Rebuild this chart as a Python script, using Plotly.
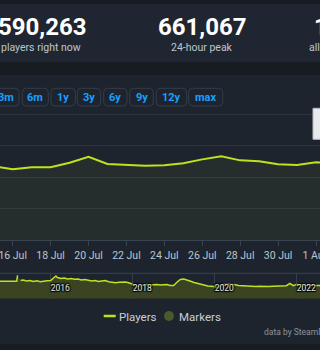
import plotly.graph_objects as go

W, H = 320, 350
FONT = "Roboto"

# ---------------- data ----------------
main_dates = ["2023-07-15", "2023-07-16", "2023-07-17", "2023-07-18", "2023-07-19",
              "2023-07-20", "2023-07-21", "2023-07-22", "2023-07-23", "2023-07-24",
              "2023-07-25", "2023-07-26", "2023-07-27", "2023-07-28", "2023-07-29",
              "2023-07-30", "2023-07-31", "2023-08-01", "2023-08-02"]
main_players = [585000, 561000, 577000, 577000, 613000,
                661000, 603000, 598000, 590000, 593000,
                609000, 640000, 664000, 632000, 625000,
                601000, 595000, 617000, 610000]

nav_dates = ["2014-10-01", "2014-11-01", "2014-12-01", "2015-01-01", "2015-02-01",
             "2015-03-05", "2015-03-12", "2015-03-13", "2015-04-08",
             "2015-05-01", "2015-06-01", "2015-07-01", "2015-08-01", "2015-09-01",
             "2015-10-01", "2015-11-01", "2015-12-01",
             "2016-01-01", "2016-02-01", "2016-02-17", "2016-03-01", "2016-04-01",
             "2016-05-01", "2016-06-01", "2016-07-01", "2016-08-01", "2016-09-01",
             "2016-10-01", "2016-11-01", "2016-12-01",
             "2017-01-01", "2017-02-01", "2017-03-01", "2017-04-01", "2017-05-01",
             "2017-06-01", "2017-07-01", "2017-08-01", "2017-09-01", "2017-10-01",
             "2017-11-01", "2017-12-01",
             "2018-01-01", "2018-02-01", "2018-03-01", "2018-04-01", "2018-05-01",
             "2018-06-01", "2018-07-01", "2018-08-01", "2018-09-01", "2018-10-01",
             "2018-11-01", "2018-12-01",
             "2019-01-01", "2019-02-01", "2019-03-01", "2019-04-01", "2019-05-01",
             "2019-06-01", "2019-07-01", "2019-08-01", "2019-09-01", "2019-10-01",
             "2019-11-01", "2019-12-01",
             "2020-01-01", "2020-02-01", "2020-03-01", "2020-04-01", "2020-05-01",
             "2020-06-01", "2020-07-01", "2020-08-01", "2020-09-01", "2020-10-01",
             "2020-11-01", "2020-12-01",
             "2021-01-01", "2021-02-01", "2021-03-01", "2021-04-01", "2021-05-01",
             "2021-06-01", "2021-07-01", "2021-08-01", "2021-09-01", "2021-10-01",
             "2021-11-01", "2021-12-01",
             "2022-01-01", "2022-02-01", "2022-03-01", "2022-04-01", "2022-05-01",
             "2022-06-01", "2022-07-01", "2022-08-01", "2022-09-01", "2022-10-01",
             "2022-11-01", "2022-12-01", "2023-01-01", "2023-03-01", "2023-05-01",
             "2023-08-01"]
nav_players = [890000, 880000, 906000, 890000, 895000,
               895000, 1197000, None, 931000,
               957000, 906000, 931000, 880000, 916000,
               870000, 906000, 921000,
               931000, 1059000, 1162000, 1085000, 1034000,
               1059000, 1008000, 1034000, 993000, 1008000,
               957000, 983000, 931000,
               906000, 931000, 880000, 906000, 931000,
               865000, 829000, 819000, 845000, 855000,
               855000, 804000,
               727000, 676000, 650000, 676000, 727000,
               701000, 717000, 727000, 701000, 717000,
               727000, 676000,
               676000, 855000, 983000, 1008000, 931000,
               890000, 829000, 778000, 737000, 676000,
               650000, 635000,
               614000, 599000, 676000, 752000, 763000,
               752000, 711000, 676000, 660000, 650000,
               635000, 640000,
               624000, 635000, 624000, 640000, 624000,
               640000, 650000, 640000, 660000, 665000,
               788000, 665000,
               737000, 701000, 701000, 686000, 701000,
               676000, 676000, 676000, 670000, 665000,
               660000, 655000, 650000, 645000, 640000,
               640000]

stat_values = ["590,263", "661,067", "1,295,114"]
stat_labels = ["players right now", "24-hour peak", "all-time peak"]
range_buttons = ["3m", "6m", "1y", "3y", "6y", "9y", "12y", "max"]
legend_labels = ["Players", "Markers"]
credit = "data by SteamDB"

# ---------------- styling ----------------
LINE = "#bde31f"
BG_PAGE = "#171b22"
BG_STATS = "#1f2631"
BG_CHART = "#1e242e"
GRID = "#2c333e"
AXIS = "#3a4350"
TXT = "#bcc6cf"
BLUE = "#1a9fff"


def px(x):
    return x / W


def py(y):
    return 1 - y / H


def rrect(x0, y0, x1, y1, r):
    pts = [
        f"M{px(x0 + r)},{py(y0)}", f"L{px(x1 - r)},{py(y0)}",
        f"Q{px(x1)},{py(y0)} {px(x1)},{py(y0 + r)}", f"L{px(x1)},{py(y1 - r)}",
        f"Q{px(x1)},{py(y1)} {px(x1 - r)},{py(y1)}", f"L{px(x0 + r)},{py(y1)}",
        f"Q{px(x0)},{py(y1)} {px(x0)},{py(y1 - r)}", f"L{px(x0)},{py(y0 + r)}",
        f"Q{px(x0)},{py(y0)} {px(x0 + r)},{py(y0)}", "Z"]
    return " ".join(pts)


fig = go.Figure()

fig.add_trace(go.Scatter(
    x=main_dates, y=main_players, mode="lines", name="Players",
    line=dict(color=LINE, width=2), fill="tozeroy",
    fillcolor="rgba(189,227,31,0.05)", xaxis="x", yaxis="y", showlegend=False,
    hoverinfo="skip"))

fig.add_trace(go.Scatter(
    x=nav_dates, y=nav_players, mode="lines", name="Navigator",
    line=dict(color=LINE, width=1.5), fill="tozeroy", fillcolor="#3a4322",
    connectgaps=False, xaxis="x2", yaxis="y2", showlegend=False, hoverinfo="skip"))

shapes = [
    dict(type="rect", xref="paper", yref="paper", x0=0, x1=1, y0=py(62.3), y1=py(4),
         fillcolor=BG_STATS, line_width=0, layer="below"),
    dict(type="rect", xref="paper", yref="paper", x0=0, x1=1, y0=py(344), y1=py(75),
         fillcolor=BG_CHART, line_width=0, layer="below"),
    dict(type="line", xref="paper", yref="paper", x0=0, x1=1, y0=py(273.3), y1=py(273.3),
         line=dict(color=AXIS, width=1)),
    # tooltip edge peeking in from the right
    dict(type="rect", xref="paper", yref="paper", x0=px(313), x1=px(340),
         y0=py(139.3), y1=py(108.3),
         fillcolor="#e8e9eb", line=dict(color="#b8bcc1", width=1)),
    # legend symbols
    dict(type="line", xref="paper", yref="paper", x0=px(103.7), x1=px(115.7),
         y0=py(316), y1=py(316), line=dict(color=LINE, width=2.5)),
    dict(type="circle", xref="paper", yref="paper", x0=px(164), x1=px(174),
         y0=py(321), y1=py(311), fillcolor="#4a5a2a", line_width=0),
]

btn_x0 = [-7, 22.3, 51, 77.3, 103.7, 129.7, 156.3, 188.7]
btn_x1 = [19, 48.3, 75.3, 100.7, 127, 153.3, 186.7, 222.7]
annotations = []
for lab, a, b in zip(range_buttons, btn_x0, btn_x1):
    shapes.append(dict(type="path", xref="paper", yref="paper",
                       path=rrect(a, 88.3, b, 106, 4),
                       fillcolor="rgba(0,0,0,0)", line=dict(color="#323c49", width=1)))
    annotations.append(dict(text=f"<b>{lab}</b>", x=px((a + b) / 2), y=py(97.3),
                            xref="paper", yref="paper", showarrow=False,
                            xanchor="center", yanchor="middle",
                            font=dict(family=FONT, size=11, color=BLUE)))

stat_x = [42.5, 202, 312]
lab_x = [41, 202, 307]
stat_anchor = ["center", "center", "left"]
for v, l, sx, lx, anc in zip(stat_values, stat_labels, stat_x, lab_x, stat_anchor):
    annotations.append(dict(text=f"<b>{v}</b>", x=px(sx), y=py(27.3), xref="paper",
                            yref="paper", showarrow=False, xanchor=anc, yanchor="middle",
                            font=dict(family=FONT, size=24, color="#ffffff")))
    annotations.append(dict(text=l, x=px(lx), y=py(48), xref="paper", yref="paper",
                            showarrow=False, xanchor=anc, yanchor="middle",
                            font=dict(family=FONT, size=10.5, color=TXT)))

annotations.append(dict(text=legend_labels[0], x=px(117), y=py(316.5), xref="paper",
                        yref="paper", showarrow=False, xanchor="left", yanchor="middle",
                        font=dict(family=FONT, size=11.5, color="#c6d0d8")))
annotations.append(dict(text=legend_labels[1], x=px(177), y=py(316.5), xref="paper",
                        yref="paper", showarrow=False, xanchor="left", yanchor="middle",
                        font=dict(family=FONT, size=11.5, color="#c6d0d8")))
annotations.append(dict(text=credit, x=px(261.5), y=py(331.7), xref="paper",
                        yref="paper", showarrow=False, xanchor="left", yanchor="middle",
                        font=dict(family=FONT, size=8.5, color="#8a949d")))

fig.update_layout(
    width=W, height=H, margin=dict(l=0, r=0, t=0, b=0, pad=0, autoexpand=False),
    paper_bgcolor=BG_PAGE, plot_bgcolor="rgba(0,0,0,0)",
    showlegend=False, shapes=shapes, annotations=annotations,
    font=dict(family=FONT),
    xaxis=dict(domain=[0, 1], anchor="y", type="date", automargin=False,
               range=["2023-07-15 07:56", "2023-08-01 05:04"],
               tick0="2023-07-16", dtick=2 * 86400000, tickformat="%-d %b",
               ticks="outside", ticklen=5, tickcolor=AXIS, showline=True,
               linecolor=AXIS, showgrid=False, zeroline=False,
               ticklabeloverflow="allow",
               tickfont=dict(family=FONT, size=10.5, color=TXT)),
    yaxis=dict(domain=[py(240), py(108)], anchor="x", range=[0, 1047600],
               automargin=False,
               dtick=250000, showgrid=True, gridcolor=GRID, zeroline=False,
               showticklabels=False, ticks=""),
    xaxis2=dict(domain=[0, 1], anchor="y2", type="date", automargin=False,
                range=["2014-10-07", "2022-07-27"], tick0="2016-01-01", dtick="M24",
                tickformat="%Y", showgrid=True, gridcolor="#353e4b", ticks="",
                ticklabelposition="inside right", showline=False, zeroline=False,
                ticklabeloverflow="allow",
                tickfont=dict(family=FONT, size=8.5, color="#e2e6ea",
                              shadow="1px 1px 1px #000, -1px -1px 1px #000, "
                                     "1px -1px 1px #000, -1px 1px 1px #000")),
    yaxis2=dict(domain=[py(298.7), py(273.3)], anchor="x2", range=[0, 1300000],
                automargin=False,
                showgrid=False, zeroline=False, showticklabels=False, ticks=""),
)

fig.write_html("out.html", config={"displayModeBar": False})
